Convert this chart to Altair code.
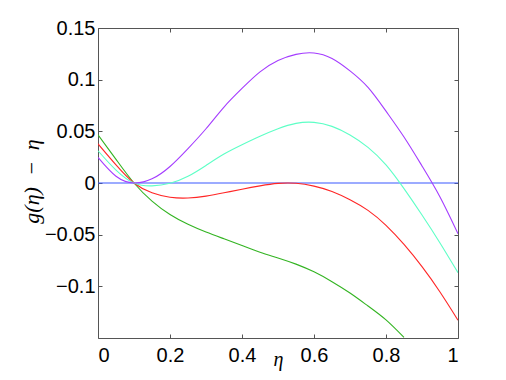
import altair as alt
import pandas as pd

# ---- data ----
eta = [0.0, 0.05, 0.1, 0.15, 0.2, 0.25, 0.3, 0.35, 0.4, 0.45, 0.5,
       0.55, 0.6, 0.65, 0.7, 0.75, 0.8, 0.85, 0.9, 0.95, 1.0]

purple = [0.0247, 0.0065, 0.0, 0.004, 0.016, 0.0333, 0.0525, 0.0735, 0.0915, 0.1075, 0.1185,
          0.1245, 0.1258, 0.1205, 0.1085, 0.0925, 0.0695, 0.0445, 0.0165, -0.0135, -0.0491]

cyan = [0.0312, 0.0125, 0.0, -0.0028, -0.0003, 0.0065, 0.017, 0.028, 0.037, 0.0452, 0.0525,
        0.0577, 0.0587, 0.0548, 0.0465, 0.0345, 0.0175, -0.0055, -0.031, -0.058, -0.0868]

red = [0.0379, 0.0175, 0.0, -0.0095, -0.0138, -0.0145, -0.0127, -0.0095, -0.006, -0.0028, -0.0004,
       -0.0003, -0.003, -0.0082, -0.0162, -0.0265, -0.041, -0.0595, -0.081, -0.1055, -0.1328]

green = [0.0466, 0.0229, 0.0, -0.0175, -0.0305, -0.040, -0.0475, -0.054, -0.0605, -0.067, -0.0725,
         -0.0785, -0.086, -0.0955, -0.1065, -0.119, -0.1325, -0.1495, None, None, None]

zero = [0.0] * len(eta)

series_names = ["zero", "green", "red", "cyan", "purple"]
series_values = [zero, green, red, cyan, purple]
series_colors = ["#3a58ff", "#33b422", "#ff2626", "#5effc6", "#a43cff"]

x_ticks = [0, 0.2, 0.4, 0.6, 0.8, 1]
y_ticks = [-0.1, -0.05, 0, 0.05, 0.1, 0.15]
x_domain = [0, 1]
y_domain = [-0.15, 0.15]

rows = []
for name, vals in zip(series_names, series_values):
    for e, v in zip(eta, vals):
        if v is not None:
            rows.append({"eta": e, "value": v, "series": name})
df = pd.DataFrame(rows)

W, H = 360, 310
FONT = "Liberation Sans"
SERIF = "Liberation Serif"
LABEL_EXPR = "format(datum.value, '~g')"

xscale = alt.Scale(domain=x_domain, nice=False, zero=False)
yscale = alt.Scale(domain=y_domain, nice=False, zero=False)

base = alt.Chart(df)

lines = base.mark_line(strokeWidth=1.1, interpolate="natural", clip=True).encode(
    x=alt.X("eta:Q", scale=xscale,
            axis=alt.Axis(orient="bottom", values=x_ticks, labelExpr=LABEL_EXPR, grid=False,
                          domain=False, tickSize=0, labelPadding=7,
                          labelFont=FONT, labelFontSize=20, labelColor="black",
                          title="η", titleFont=SERIF, titleFontStyle="italic",
                          titleFontWeight="normal", titleFontSize=20,
                          titleX=W / 2, titleY=27, titleBaseline="alphabetic",
                          titleAlign="center", titleColor="black")),
    y=alt.Y("value:Q", scale=yscale,
            axis=alt.Axis(orient="left", values=y_ticks, labelExpr=LABEL_EXPR, grid=False,
                          domain=False, tickSize=0, labelPadding=3,
                          labelFont=FONT, labelFontSize=20, labelColor="black",
                          title="g(η)\u2002−\u2002η", titleFont=SERIF,
                          titleFontStyle="italic", titleFontWeight="normal",
                          titleFontSize=22, titleAngle=270, titleX=-67, titleY=153,
                          titleBaseline="middle", titleAlign="center",
                          titleColor="black")),
    color=alt.Color("series:N", scale=alt.Scale(domain=series_names, range=series_colors),
                    legend=None),
    detail="series:N",
)

# inward ticks on bottom and left edges
ticks_bl = base.mark_point(opacity=0).encode(
    x=alt.X("eta:Q", scale=xscale,
            axis=alt.Axis(orient="top", offset=-H, values=x_ticks, labels=False,
                          domain=False, grid=False, tickSize=4, tickColor="#555",
                          title=None)),
    y=alt.Y("value:Q", scale=yscale,
            axis=alt.Axis(orient="right", offset=-W, values=y_ticks, labels=False,
                          domain=False, grid=False, tickSize=4, tickColor="#555",
                          title=None)),
)

# inward ticks on top and right edges
ticks_tr = base.mark_point(opacity=0).encode(
    x=alt.X("eta:Q", scale=xscale,
            axis=alt.Axis(orient="bottom", offset=-H, values=x_ticks, labels=False,
                          domain=False, grid=False, tickSize=4, tickColor="#555",
                          title=None)),
    y=alt.Y("value:Q", scale=yscale,
            axis=alt.Axis(orient="left", offset=-W, values=y_ticks, labels=False,
                          domain=False, grid=False, tickSize=4, tickColor="#555",
                          title=None)),
)

chart = alt.layer(lines, ticks_bl, ticks_tr).resolve_axis(
    x="independent", y="independent"
).properties(
    width=W, height=H,
    autosize=alt.AutoSizeParams(type="none"),
    padding={"left": 90, "top": 20, "right": 40, "bottom": 34},
    background="white",
).configure_view(stroke="#555", strokeWidth=1)

chart.save("out.html", embed_options={"renderer": "svg", "actions": False})
